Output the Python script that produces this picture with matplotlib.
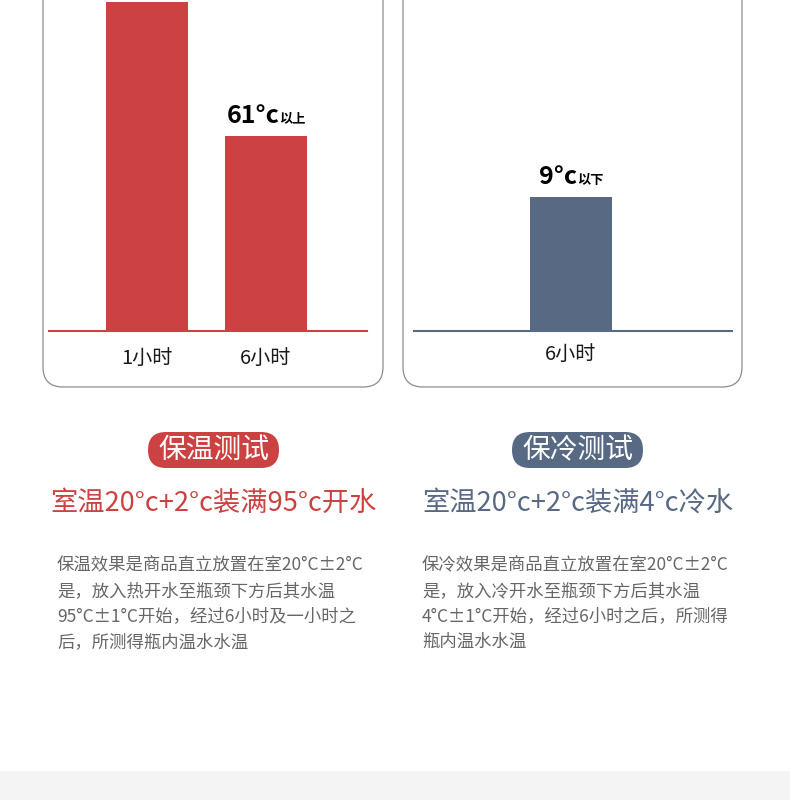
import matplotlib
matplotlib.use("Agg")
import matplotlib.pyplot as plt
from matplotlib.patches import FancyBboxPatch, Rectangle
from matplotlib.offsetbox import TextArea, HPacker, AnnotationBbox

FONTS = ['Noto Sans CJK SC', 'DejaVu Sans']
plt.rcParams['font.family'] = FONTS

# ---------------- data ----------------
hot_categories = ["1小时", "6小时"]
hot_values = [103, 61]
hot_label_main = [None, "61°c"]
hot_label_suffix = [None, "以上"]

cold_categories = ["6小时"]
cold_values = [9]
cold_label_main = ["9°c"]
cold_label_suffix = ["以下"]

hot_badge = "保温测试"
cold_badge = "保冷测试"
hot_subtitle = "室温20°c+2°c装满95°c开水"
cold_subtitle = "室温20°c+2°c装满4°c冷水"
hot_body = ["保温效果是商品直立放置在室20°C±2°C",
            "是，放入热开水至瓶颈下方后其水温",
            "95°C±1°C开始，经过6小时及一小时之",
            "后，所测得瓶内温水水温"]
cold_body = ["保冷效果是商品直立放置在室20°C±2°C",
             "是，放入冷开水至瓶颈下方后其水温",
             "4°C±1°C开始，经过6小时之后，所测得",
             "瓶内温水水温"]

RED = "#cc4141"
BLUE = "#576983"
W, H = 790, 800

fig = plt.figure(figsize=(W / 100, H / 100), dpi=100)
fig.patch.set_facecolor("white")

# background / decoration layer in pixel coordinates
bg = fig.add_axes([0, 0, 1, 1], zorder=0)
bg.set_xlim(0, W)
bg.set_ylim(H, 0)
bg.axis("off")

bg.add_patch(Rectangle((0, 771), W, 40, fc="#f4f4f4", ec="none"))
for x0, w in [(43, 340), (403, 339)]:
    bg.add_patch(FancyBboxPatch((x0, -40), w, 427,
                                boxstyle="round,pad=0,rounding_size=20",
                                fc="white", ec="#8c8c8c", lw=0.9))

for (x0, color, badge, sub, body, bx) in [
        (148, RED, hot_badge, hot_subtitle, hot_body, 57),
        (512, BLUE, cold_badge, cold_subtitle, cold_body, 422)]:
    bg.add_patch(FancyBboxPatch((x0, 432), 131, 36,
                                boxstyle="round,pad=0,rounding_size=18",
                                fc=color, ec="none"))
    bg.text(x0 + 65.5, 450, badge, color="white", fontsize=20,
            fontweight="light", ha="center", va="center")
    bg.text(x0 + 66, 503, sub, color=color, fontsize=19.6,
            fontweight="light", ha="center", va="center")
    for i, line in enumerate(body):
        bg.text(bx, 565 + i * 25.7, line, color="#666666", fontsize=12.5,
                fontweight="light", ha="left", va="center")


def add_label(ax, x, h, main, suffix, color):
    t1 = TextArea(main, textprops=dict(fontsize=18, fontweight="bold",
                                       color="black", family=FONTS))
    t2 = TextArea(suffix, textprops=dict(fontsize=9.5, fontweight="bold",
                                         color="black", family=FONTS))
    box = HPacker(children=[t1, t2], align="baseline", pad=0, sep=0)
    ab = AnnotationBbox(box, (x, h), xybox=(0, 6), xycoords="data",
                        boxcoords="offset points", box_alignment=(0.5, 0),
                        frameon=False, pad=0)
    ax.add_artist(ab)


def style_axis(ax, color, pad):
    for s in ["left", "top", "right"]:
        ax.spines[s].set_visible(False)
    ax.spines["bottom"].set_color(color)
    ax.spines["bottom"].set_linewidth(1.5)
    ax.set_yticks([])
    ax.tick_params(axis="x", length=0, pad=pad, labelsize=14.5,
                   labelcolor="#1a1a1a")
    ax.set_facecolor("none")


# hot chart
ax1 = fig.add_axes([49 / W, 1 - 331 / H, 318 / W, 331 / H], zorder=1)
xs1 = list(range(len(hot_categories)))
ax1.bar(xs1, hot_values, width=0.689, color=RED, zorder=2)
ax1.set_xlim(-0.824, 1.849)
ax1.set_ylim(0, 103.5)
ax1.set_xticks(xs1, hot_categories)
style_axis(ax1, RED, 12.5)
for x, v, m, s in zip(xs1, hot_values, hot_label_main, hot_label_suffix):
    if m:
        add_label(ax1, x, v, m, s, RED)

# cold chart
ax2 = fig.add_axes([414 / W, 1 - 331 / H, 318 / W, 331 / H], zorder=1)
xs2 = list(range(len(cold_categories)))
ax2.bar(xs2, cold_values, width=0.689, color=BLUE, zorder=2)
ax2.set_xlim(-1.319, 1.353)
ax2.set_ylim(0, 22.23)
ax2.set_xticks(xs2, cold_categories)
style_axis(ax2, BLUE, 9.5)
for x, v, m, s in zip(xs2, cold_values, cold_label_main, cold_label_suffix):
    add_label(ax2, x, v, m, s, BLUE)

fig.savefig("out.png", dpi=100, facecolor="white")
